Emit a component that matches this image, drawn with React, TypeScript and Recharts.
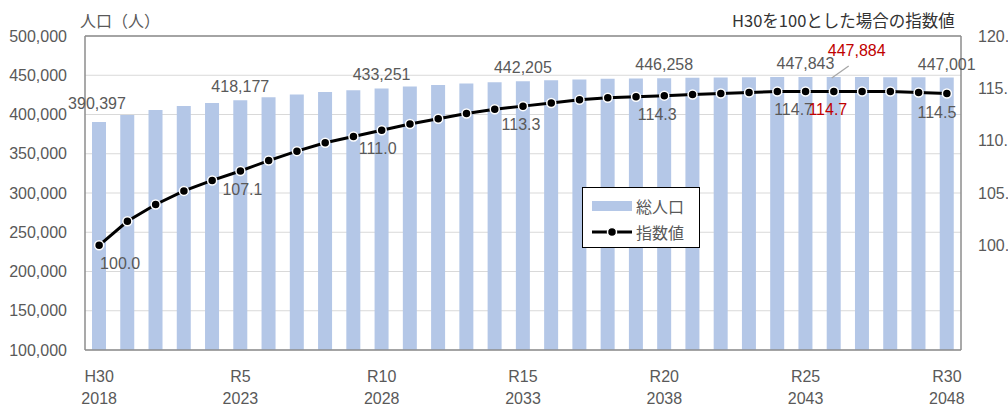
import React from "react";
import {
  ComposedChart,
  Bar,
  Line,
  XAxis,
  YAxis,
  CartesianGrid,
  LabelList,
  ReferenceLine,
} from "recharts";

const years = [
  2018, 2019, 2020, 2021, 2022, 2023, 2024, 2025, 2026, 2027, 2028, 2029, 2030, 2031, 2032, 2033,
  2034, 2035, 2036, 2037, 2038, 2039, 2040, 2041, 2042, 2043, 2044, 2045, 2046, 2047, 2048,
];

// 総人口 (people)
const population = [
  390397, 399400, 405600, 410700, 414600, 418177, 422000, 425500, 428600, 431000, 433251, 435700,
  437600, 439600, 441000, 442205, 443500, 444600, 445400, 445900, 446258, 446700, 447100, 447400,
  447700, 447843, 447884, 447800, 447600, 447400, 447001,
];

// 指数値 (H30 = 100)
const indexValues = [
  100.0, 102.3, 103.9, 105.2, 106.2, 107.1, 108.1, 109.0, 109.8, 110.4, 111.0, 111.6, 112.1, 112.6,
  113.0, 113.3, 113.6, 113.9, 114.1, 114.2, 114.3, 114.4, 114.5, 114.6, 114.7, 114.7, 114.7, 114.7,
  114.7, 114.6, 114.5,
];

const tickYears = [2018, 2023, 2028, 2033, 2038, 2043, 2048];
const tickEras = ["H30", "R5", "R10", "R15", "R20", "R25", "R30"];
const popTicks = [100000, 150000, 200000, 250000, 300000, 350000, 400000, 450000, 500000];
const indexTicks = [100, 105, 110, 115, 120];
const labelYears = [2018, 2023, 2028, 2033, 2038, 2043, 2044, 2048];
const highlightYear = 2044;

const data = years.map((year, i) => ({ year, pop: population[i], idx: indexValues[i] }));

const FONT = "'Liberation Sans', Arial, 'Noto Sans CJK JP', sans-serif";
const JP_FONT = "'Noto Sans CJK JP', sans-serif";
const TEXT = "#595959";
const RED = "#c00000";
const AXIS = "#8c8c8c";
const BAR = "#b4c7e7";

const XTick = (props: any) => {
  const { x, y, payload } = props;
  const k = tickYears.indexOf(payload.value);
  if (k < 0) return null;
  return (
    <g>
      <text x={x} y={y + 32} textAnchor="middle" fill={TEXT} fontSize={16} fontFamily={FONT}>
        {tickEras[k]}
      </text>
      <text x={x} y={y + 54} textAnchor="middle" fill={TEXT} fontSize={16} fontFamily={FONT}>
        {payload.value}
      </text>
    </g>
  );
};

const PopLabel = (props: any) => {
  const { x, y, width, index } = props;
  const yr = years[index];
  if (!labelYears.includes(yr)) return null;
  const cx = x + width / 2;
  const text = population[index].toLocaleString("en-US");
  if (yr === highlightYear) {
    return (
      <g>
        <line x1={cx - 2} y1={y + 1} x2={cx + 15} y2={y - 11} stroke="#a6a6a6" strokeWidth={1.3} />
        <text x={cx + 23} y={y - 21} textAnchor="middle" fill={RED} fontSize={16} fontFamily={FONT}>
          {text}
        </text>
      </g>
    );
  }
  const nudge = yr === 2018 ? -5 : 0;
  return (
    <text x={cx - (yr === 2018 ? 2 : 0)} y={y - 8 + nudge} textAnchor="middle" fill={TEXT} fontSize={16} fontFamily={FONT}>
      {text}
    </text>
  );
};

const idxDx: Record<number, number> = { 2018: 21, 2023: 2, 2028: -4, 2033: -2, 2038: -7, 2043: -12, 2044: -6, 2048: -10 };

const IdxLabel = (props: any) => {
  const { x, y, index } = props;
  const yr = years[index];
  if (!labelYears.includes(yr)) return null;
  return (
    <text
      x={x + (idxDx[yr] ?? 0)}
      y={y + 24}
      textAnchor="middle"
      fill={yr === highlightYear ? RED : TEXT}
      fontSize={16}
      fontFamily={FONT}
    >
      {indexValues[index].toFixed(1)}
    </text>
  );
};

const LegendBox = () => (
  <div
    style={{
      position: "absolute",
      left: 582,
      top: 187,
      border: "1.5px solid #000",
      background: "#fff",
      width: 118,
      height: 61,
      boxSizing: "border-box",
      paddingLeft: 9,
      paddingTop: 5,
      fontFamily: JP_FONT,
      fontSize: 16,
      color: TEXT,
      lineHeight: "26px",
    }}
  >
    <div style={{ display: "flex", alignItems: "center" }}>
      <span style={{ display: "inline-block", width: 40, height: 10, background: BAR, marginRight: 4 }} />
      総人口
    </div>
    <div style={{ display: "flex", alignItems: "center" }}>
      <svg width={40} height={12} style={{ marginRight: 4 }}>
        <line x1={0} y1={6} x2={40} y2={6} stroke="#000" strokeWidth={3} />
        <circle cx={20} cy={6} r={4.5} fill="#000" stroke="#fff" strokeWidth={1.5} />
      </svg>
      指数値
    </div>
  </div>
);

export default function App() {
  return (
    <div style={{ position: "absolute", left: 0, top: 0, width: 1008, height: 411, overflow: "hidden", background: "#fff" }}>
      <ComposedChart width={1008} height={411} data={data} margin={{ top: 36, right: 0, bottom: 0, left: 0 }}>
        <CartesianGrid yAxisId="left" vertical={false} stroke="#d9d9d9" strokeWidth={1.2} />
        <XAxis
          dataKey="year"
          interval={0}
          height={61}
          tickLine={false}
          tickSize={0}
          tickMargin={0}
          axisLine={{ stroke: AXIS, strokeWidth: 1.5 }}
          tick={<XTick />}
        />
        <YAxis
          yAxisId="left"
          width={85}
          domain={[100000, 500000]}
          ticks={popTicks}
          allowDataOverflow
          tickLine={false}
          tickSize={0}
          tickMargin={18}
          axisLine={{ stroke: AXIS, strokeWidth: 1.5 }}
          tickFormatter={(v: number) => v.toLocaleString("en-US")}
          tick={{ fill: TEXT, fontSize: 16, fontFamily: FONT }}
        />
        <YAxis
          yAxisId="right"
          orientation="right"
          width={47}
          domain={[90, 120]}
          ticks={indexTicks}
          allowDataOverflow
          tickLine={false}
          tickSize={0}
          tickMargin={17}
          axisLine={{ stroke: AXIS, strokeWidth: 1.5 }}
          tickFormatter={(v: number) => v.toFixed(1)}
          tick={{ fill: TEXT, fontSize: 16, fontFamily: FONT, textAnchor: "start" }}
        />
        <ReferenceLine yAxisId="left" y={500000} stroke={AXIS} strokeWidth={1.5} />
        <Bar yAxisId="left" dataKey="pop" name="総人口" fill={BAR} barSize={14} isAnimationActive={false}>
          <LabelList dataKey="pop" content={<PopLabel />} />
        </Bar>
        <Line
          yAxisId="right"
          dataKey="idx"
          name="指数値"
          stroke="#000"
          strokeWidth={3}
          dot={{ r: 4.5, fill: "#000", stroke: "#fff", strokeWidth: 1.5 }}
          isAnimationActive={false}
        >
          <LabelList dataKey="idx" content={<IdxLabel />} />
        </Line>
      </ComposedChart>
      <LegendBox />
      <div style={{ position: "absolute", left: 80, top: 8, fontFamily: JP_FONT, fontSize: 16, color: TEXT, lineHeight: "24px" }}>
        人口（人）
      </div>
      <div style={{ position: "absolute", left: 732, top: 8, fontFamily: JP_FONT, fontSize: 16.5, color: "#333", lineHeight: "24px" }}>
        H30を100とした場合の指数値
      </div>
    </div>
  );
}
